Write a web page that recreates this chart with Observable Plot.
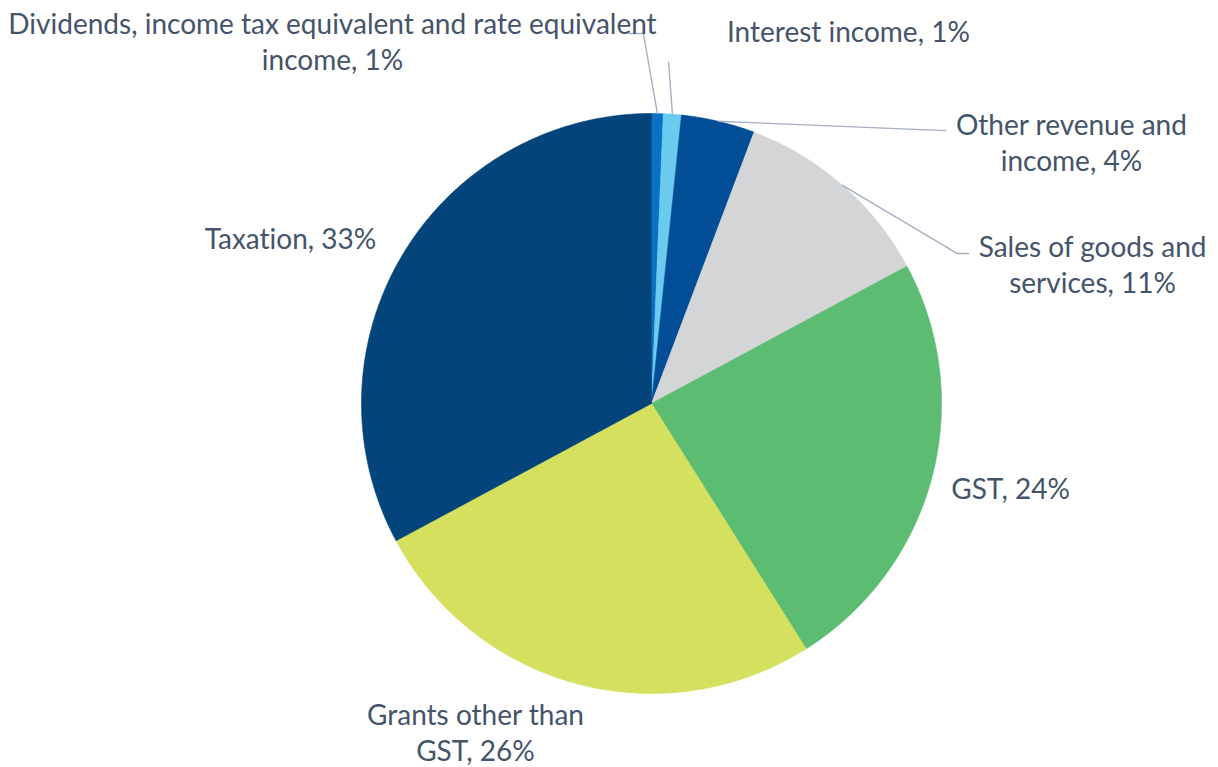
<!DOCTYPE html>
<html><head><meta charset="utf-8">
<script src="https://cdn.jsdelivr.net/npm/d3@7"></script>
<script src="https://cdn.jsdelivr.net/npm/@observablehq/plot@0.6"></script>
<style>body{margin:0;background:#fff;} #chart{width:1218px;height:767px;} svg text{font-variant-ligatures:none;font-feature-settings:"liga" 0;}</style>
</head><body><div id="chart"></div>
<script>
// ---- data ----
const categories = ["Dividends", "Interest income", "Other revenue and income", "Sales of goods and services", "GST", "Grants other than GST", "Taxation"];
const values = [0.65, 1.0, 4.1, 11.4, 23.9, 26.1, 32.85];
const labelLines = [
  ["Dividends, income tax equivalent and rate equivalent", "income, "],
  ["Interest income, "],
  ["Other revenue and", "income, "],
  ["Sales of goods and", "services, "],
  ["GST, "],
  ["Grants other than", "GST, "],
  ["Taxation, "]
];
const colors = ["#0a72c6", "#6bcbef", "#014d96", "#d4d5d7", "#5cbc72", "#d5e05e", "#03457a"];

// ---- layout (radius units, centre of pie = 0,0) ----
const labelPos = [[-1.100, 1.252], [0.679, 1.286], [1.448, 0.903], [1.521, 0.483], [1.238, -0.290], [-0.607, -1.132], [-1.245, 0.572]];
const leaderPts = {0: [[-0.028, 1.276], [-0.076, 1.276]], 1: [[0.059, 1.176]], 2: [[1.014, 0.941]], 3: [[1.055, 0.517], [1.093, 0.517]]};

const total = d3.sum(values);
let cum = 0;
const slices = categories.map((c, i) => {
  const a0 = cum / total * 2 * Math.PI; cum += values[i];
  const a1 = cum / total * 2 * Math.PI;
  return {c, i, a0, a1, mid: (a0 + a1) / 2};
});
const poly = [];
slices.forEach(s => {
  poly.push({c: s.c, x: 0, y: 0});
  const n = Math.max(2, Math.ceil((s.a1 - s.a0) / (Math.PI / 360)));
  for (let k = 0; k <= n; k++) {
    const a = s.a0 + (s.a1 - s.a0) * k / n;
    poly.push({c: s.c, x: Math.sin(a), y: Math.cos(a)});
  }
  poly.push({c: s.c, x: 0, y: 0});
});
const leaders = [];
Object.entries(leaderPts).forEach(([k, pts]) => {
  const s = slices[+k];
  leaders.push({k, x: Math.sin(s.mid), y: Math.cos(s.mid)});
  pts.forEach(p => leaders.push({k, x: p[0], y: p[1]}));
});
const labels = slices.map(s => {
  const lines = labelLines[s.i].slice();
  lines[lines.length - 1] += Math.round(values[s.i] / total * 100) + "%";
  return {x: labelPos[s.i][0], y: labelPos[s.i][1], text: lines.join("\n")};
});

const R = 290, cx = 651, cy = 403, W = 1218, H = 767;
const chart = Plot.plot({
  width: W, height: H,
  margin: 0,
  x: {domain: [-cx / R, (W - cx) / R], axis: null},
  y: {domain: [-(H - cy) / R, cy / R], axis: null},
  color: {domain: categories, range: colors},
  style: {background: "#fff"},
  marks: [
    Plot.line(poly, {x: "x", y: "y", z: "c", fill: "c", stroke: "c", strokeWidth: 0.6, curve: "linear"}),
    Plot.line(leaders, {x: "x", y: "y", z: "k", stroke: "#a6b0c3", strokeWidth: 1.4}),
    Plot.text(labels, {x: "x", y: "y", text: "text", fill: "#44546a", fontSize: 28, fontFamily: "Lato", lineHeight: 1.27})
  ]
});
document.getElementById("chart").appendChild(chart);
</script>
</body></html>
